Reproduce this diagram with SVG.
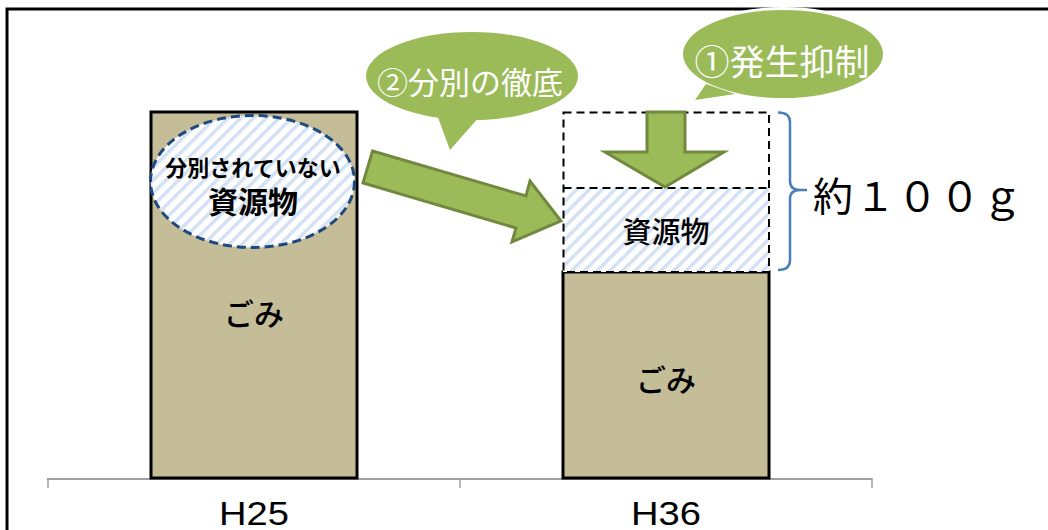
<svg xmlns="http://www.w3.org/2000/svg" width="1048" height="530" viewBox="0 0 1048 530">
  <style>
    .jp { font-family: "Noto Sans CJK JP", "Noto Sans", sans-serif; }
    .bar { fill: #C4BD97; stroke: #000; stroke-width: 3; }
    .garrow { fill: #9BBB59; stroke: #71893F; stroke-width: 3; stroke-linejoin: miter; }
    .bubble { fill: #9BBB59; }
    .dash { fill: none; stroke: #000; stroke-width: 2; stroke-dasharray: 8 5; }
    .axislbl { font-family: "Liberation Sans", Arial, sans-serif; font-size: 34px; fill: #000; }
  </style>
  <defs>
    <pattern id="hatch" patternUnits="userSpaceOnUse" width="9" height="9" patternTransform="rotate(45)">
      <rect width="9" height="9" fill="#FFFFFF"/>
      <rect x="0" y="0" width="3.5" height="9" fill="#D3E1F3"/>
    </pattern>
  </defs>
  <rect x="0" y="0" width="1048" height="530" fill="#FFFFFF"/>

  <!-- frame -->
  <g id="frame">
    <polyline points="7,530 7,9 1048,9" fill="none" stroke="#000" stroke-width="3"/>
  </g>

  <!-- axis -->
  <g id="axis">
    <line x1="47" y1="479" x2="872" y2="479" stroke="#A0A0A0" stroke-width="2"/>
    <line x1="48" y1="478" x2="48" y2="488" stroke="#A0A0A0" stroke-width="1.5"/>
    <line x1="460" y1="478" x2="460" y2="488" stroke="#A0A0A0" stroke-width="1.5"/>
    <line x1="872" y1="478" x2="872" y2="488" stroke="#A0A0A0" stroke-width="1.5"/>
    <text class="axislbl" x="254" y="525" text-anchor="middle" textLength="70" lengthAdjust="spacingAndGlyphs">H25</text>
    <text class="axislbl" x="666" y="525" text-anchor="middle" textLength="70" lengthAdjust="spacingAndGlyphs">H36</text>
  </g>

  <!-- H25 bar -->
  <g id="bar-h25">
    <rect class="bar" x="151" y="112" width="206" height="366"/>
    <text class="jp" x="254" y="312" font-size="30" font-weight="500" text-anchor="middle" dominant-baseline="central" fill="#000">ごみ</text>
  </g>

  <!-- unsorted resources ellipse -->
  <g id="unsorted">
    <ellipse cx="252.5" cy="181.5" rx="102" ry="66" fill="url(#hatch)" stroke="#1F497D" stroke-width="3" stroke-dasharray="9 5"/>
    <text class="jp" x="253" y="166" font-size="22" font-weight="bold" text-anchor="middle" dominant-baseline="central" fill="#000">分別されていない</text>
    <text class="jp" x="253" y="200" font-size="30" font-weight="bold" text-anchor="middle" dominant-baseline="central" fill="#000">資源物</text>
  </g>

  <!-- H36 bar -->
  <g id="bar-h36">
    <rect class="bar" x="563" y="272" width="206" height="206"/>
    <text class="jp" x="666" y="378" font-size="30" font-weight="500" text-anchor="middle" dominant-baseline="central" fill="#000">ごみ</text>
  </g>

  <!-- H36 resources (hatched) -->
  <g id="resources-h36">
    <rect x="563" y="188" width="206" height="84" fill="url(#hatch)"/>
    <text class="jp" x="666" y="230" font-size="29" font-weight="500" text-anchor="middle" dominant-baseline="central" fill="#000">資源物</text>
  </g>

  <!-- reduced portion dashed box -->
  <g id="reduced">
    <rect class="dash" x="563.5" y="112.5" width="205.5" height="159.5"/>
    <line class="dash" x1="563.5" y1="188" x2="769" y2="188"/>
  </g>

  <!-- brace -->
  <g id="brace">
    <path d="M778,112.5 Q790,112.5 790,122 L790,181 Q790,190 800,190 L807,190 M800,190 Q790,190 790,199 L790,260 Q790,270 778,270" fill="none" stroke="#4A7EBB" stroke-width="2.5"/>
    <text class="jp" x="813" y="194" font-size="40" dominant-baseline="central" textLength="209" lengthAdjust="spacing" fill="#000">約１００ｇ</text>
  </g>

  <!-- connectors -->
  <g id="connectors">
    <polygon class="garrow" points="372.5,151 526,196 530,181 561,221 512,242 516,228 363,183"/>
    <polygon class="garrow" points="647,112 685,112 685,152 724,152 665,187 605,152 647,152"/>
  </g>

  <!-- bubble 2 -->
  <g id="bubble-2">
    <ellipse class="bubble" cx="472" cy="76" rx="106" ry="44"/>
    <polygon class="bubble" points="436,112 450,150 480,116"/>
    <text class="jp" x="470" y="80" font-size="31" text-anchor="middle" dominant-baseline="central" fill="#FFFFFF">②分別の徹底</text>
  </g>

  <!-- bubble 1 -->
  <g id="bubble-1">
    <ellipse cx="783" cy="54" rx="100" ry="44" fill="#FFFFFF" stroke="#FFFFFF" stroke-width="6"/>
    <ellipse class="bubble" cx="783" cy="54" rx="100" ry="44"/>
    <polygon class="bubble" points="706,84 695,100 735,94"/>
    <text class="jp" x="782" y="59" font-size="35" text-anchor="middle" dominant-baseline="central" fill="#FFFFFF">①発生抑制</text>
  </g>
</svg>
